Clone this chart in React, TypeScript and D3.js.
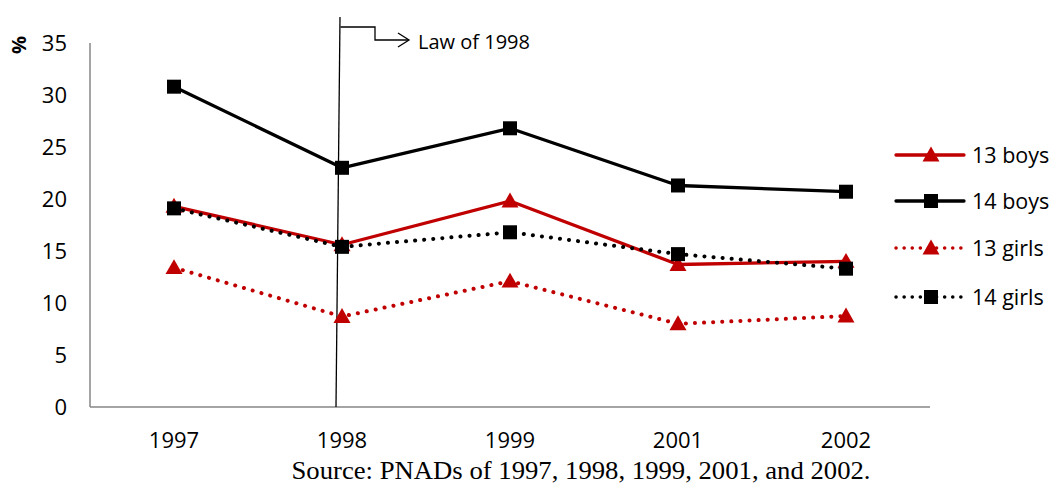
import React from "react";
import * as d3 from "d3";

const years = ["1997", "1998", "1999", "2001", "2002"];
const boys13 = [19.3, 15.6, 19.8, 13.7, 14.0];
const boys14 = [30.8, 23.0, 26.8, 21.3, 20.7];
const girls13 = [13.4, 8.7, 12.1, 8.0, 8.75];
const girls14 = [19.1, 15.4, 16.8, 14.7, 13.3];
const yTicks = [0, 5, 10, 15, 20, 25, 30, 35];

const seriesList = [
  { name: "13 boys", values: boys13, color: "#C00000", dotted: false, marker: "tri" },
  { name: "14 boys", values: boys14, color: "#000000", dotted: false, marker: "sq" },
  { name: "13 girls", values: girls13, color: "#C00000", dotted: true, marker: "tri" },
  { name: "14 girls", values: girls14, color: "#000000", dotted: true, marker: "sq" },
];

const FONT = "'Open Sans', 'Liberation Sans', sans-serif";

function Marker({ kind, x, y, color }: { kind: string; x: number; y: number; color: string }) {
  if (kind === "sq") {
    return <rect x={x - 7} y={y - 7} width={14} height={14} fill={color} />;
  }
  const s = 8.5;
  return (
    <path d={`M${x},${y - s} L${x + s},${y + s * 0.75} L${x - s},${y + s * 0.75} Z`} fill={color} />
  );
}

export default function App() {
  const W = 1056, H = 489;
  const left = 90, right = 930, top = 43, bottom = 407;
  const x = d3.scaleBand<string>().domain(years).range([left, right]);
  const y = d3.scaleLinear().domain([0, 35]).range([bottom, top]);
  const cx = (yr: string) => (x(yr) as number) + x.bandwidth() / 2;
  const line = d3
    .line<number>()
    .x((_, i) => cx(years[i]))
    .y((v) => y(v));

  const legendRows = [155, 201, 248, 297];
  const lawX = cx("1998");

  return (
    <svg width={W} height={H} style={{ position: "absolute", left: 0, top: 0 }}>
      <rect width={W} height={H} fill="#fff" />
      {/* axes */}
      <line x1={left} x2={left} y1={top} y2={bottom} stroke="#868686" strokeWidth={1.5} />
      <line x1={left} x2={right} y1={bottom} y2={bottom} stroke="#868686" strokeWidth={1.5} />
      {yTicks.map((t) => (
        <text key={t} x={67} y={y(t)} dy="0.35em" textAnchor="end" fontFamily={FONT} fontSize={22} fill="#000">
          {t}
        </text>
      ))}
      <text
        transform={`translate(19,${45}) rotate(-90)`}
        textAnchor="middle"
        dy="0.35em"
        fontFamily={FONT}
        fontSize={20}
        fontWeight="bold"
      >
        %
      </text>
      {years.map((yr) => (
        <text key={yr} x={cx(yr)} y={440} dy="0.35em" textAnchor="middle" fontFamily={FONT} fontSize={22}>
          {yr}
        </text>
      ))}
      {/* law line */}
      <line x1={lawX - 6} y1={bottom} x2={lawX - 2} y2={17} stroke="#000" strokeWidth={1.3} />
      <path
        d={`M${lawX - 1.5},27 H${lawX + 33} V40 H${lawX + 66}`}
        fill="none"
        stroke="#000"
        strokeWidth={1.3}
      />
      <path
        d={`M${lawX + 56},33 L${lawX + 67},40 L${lawX + 56},47`}
        fill="none"
        stroke="#000"
        strokeWidth={1.3}
      />
      <text x={lawX + 76} y={42} dy="0.35em" fontFamily={FONT} fontSize={20}>
        Law of 1998
      </text>
      {/* series */}
      {seriesList.map((s) => (
        <g key={s.name}>
          <path
            d={line(s.values) || ""}
            fill="none"
            stroke={s.color}
            strokeWidth={s.dotted ? 4 : 3.3}
            strokeDasharray={s.dotted ? "0.1 9" : undefined}
            strokeLinecap={s.dotted ? "round" : "butt"}
            strokeLinejoin="round"
          />
          {s.values.map((v, i) => (
            <Marker key={i} kind={s.marker} x={cx(years[i])} y={y(v)} color={s.color} />
          ))}
        </g>
      ))}
      {/* legend */}
      {seriesList.map((s, i) => (
        <g key={s.name}>
          <line
            x1={896}
            x2={964}
            y1={legendRows[i]}
            y2={legendRows[i]}
            stroke={s.color}
            strokeWidth={s.dotted ? 3.5 : 3.3}
            strokeDasharray={s.dotted ? "0.1 8" : undefined}
            strokeLinecap="round"
          />
          <Marker kind={s.marker} x={931} y={legendRows[i]} color={s.color} />
          <text x={972} y={legendRows[i]} dy="0.35em" fontFamily={FONT} fontSize={21.5}>
            {s.name}
          </text>
        </g>
      ))}
      <text
        x={581}
        y={479}
        textAnchor="middle"
        fontFamily="'Liberation Serif', 'Times New Roman', serif"
        fontSize={25}
        textLength={579}
        lengthAdjust="spacingAndGlyphs"
      >
        Source: PNADs of 1997, 1998, 1999, 2001, and 2002.
      </text>
    </svg>
  );
}
